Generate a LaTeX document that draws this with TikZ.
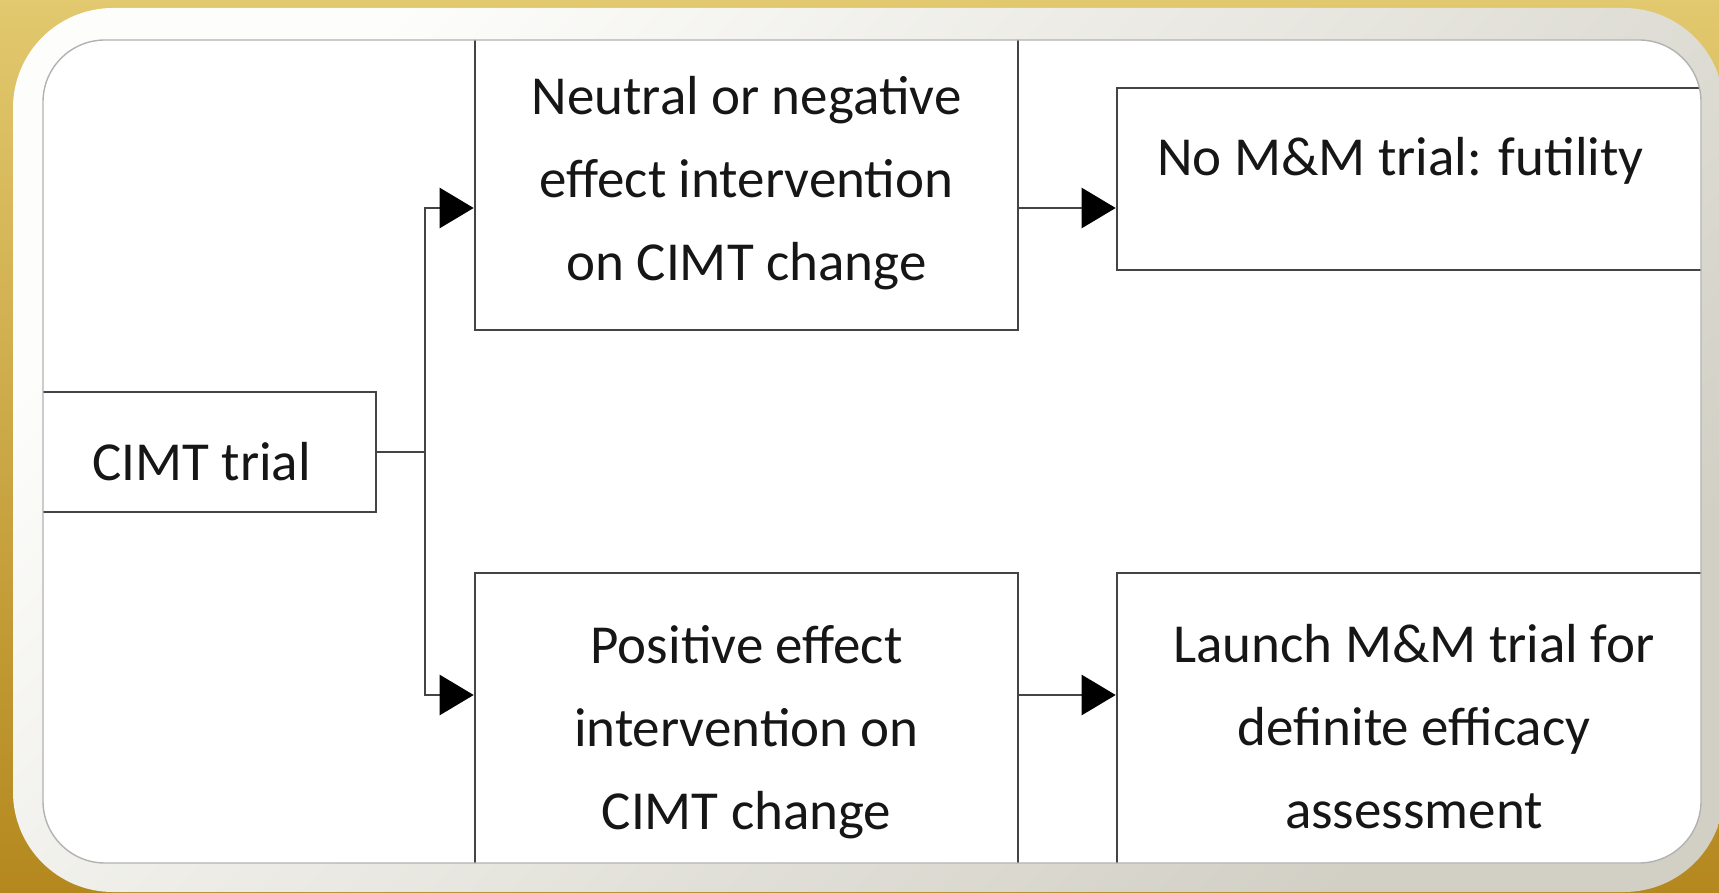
\documentclass[tikz,border=0pt]{standalone}
\usepackage{fontspec}
\setmainfont{Carlito}
\usetikzlibrary{arrows.meta}
\definecolor{goldtop}{RGB}{226,200,110}
\definecolor{goldbot}{RGB}{180,136,30}
\definecolor{framegray}{RGB}{210,208,197}
\definecolor{framewhite}{RGB}{253,253,251}
\definecolor{linegray}{RGB}{68,68,68}
\definecolor{txtcol}{RGB}{22,22,22}
\begin{document}
\begin{tikzpicture}[x=0.5pt,y=-0.5pt,
  boxnode/.style={draw=linegray, line width=1.3pt, fill=white, inner sep=0pt, rectangle},
  txt/.style={font=\fontsize{27.5pt}{41.5pt}\selectfont, text=txtcol, align=center, inner sep=0pt},
  conn/.style={draw=linegray, line width=1.25pt},
  arr/.style={conn, -{Triangle[length=17pt,width=20pt,color=black]}}
]
\useasboundingbox (0,0) rectangle (1719,893);
% background
\fill[top color=goldtop, bottom color=goldbot] (0,0) rectangle (1719,893);
% frame
\shade[left color=framewhite, right color=framegray, shading angle=45, rounded corners=50pt] (13,8) rectangle (1724,892);
\fill[white, rounded corners=31pt] (43,40) rectangle (1701,863);
\begin{scope}
\clip[rounded corners=31pt] (43,40) rectangle (1701,863);
% boxes
\node[boxnode, minimum width=183pt, minimum height=60pt] (A) at (193,452) {};
\node[boxnode, minimum width=271.5pt, minimum height=149pt] (B) at (746.5,181) {};
\node[boxnode, minimum width=321.5pt, minimum height=91pt] (C) at (1438.5,179) {};
\node[boxnode, minimum width=271.5pt, minimum height=156pt] (D) at (746.5,729) {};
\node[boxnode, minimum width=321.5pt, minimum height=156pt] (E) at (1438.5,729) {};
% texts
\node[txt, anchor=base] (At) at (201.5,480) {CIMT trial};
\node[txt] (Bt) at (746.5,183) {Neutral or negative\\effect intervention\\on CIMT change};
\node[txt, anchor=base] (Ct) at (1400.5,176) {No M\&M trial: futility};
\node[txt] (Dt) at (746.5,732) {Positive effect\\intervention on\\CIMT change};
\node[txt] (Et) at (1414,726.5) {Launch M\&M trial for\\definite efficacy\\assessment};
% connectors
\coordinate (j) at (425,452);
\coordinate (ju) at (425,208);
\coordinate (jd) at (425,695);
\draw[conn] (A.east) -- (j);
\draw[arr] (j) -- (ju) -- (B.west |- ju);
\draw[arr] (j) -- (jd) -- (D.west |- jd);
\draw[arr] (B.east |- ju) -- (C.west |- ju);
\draw[arr] (D.east |- jd) -- (E.west |- jd);
\end{scope}
\draw[gray!60, line width=0.7pt, rounded corners=31pt] (43,40) rectangle (1701,863);
\end{tikzpicture}
\end{document}
